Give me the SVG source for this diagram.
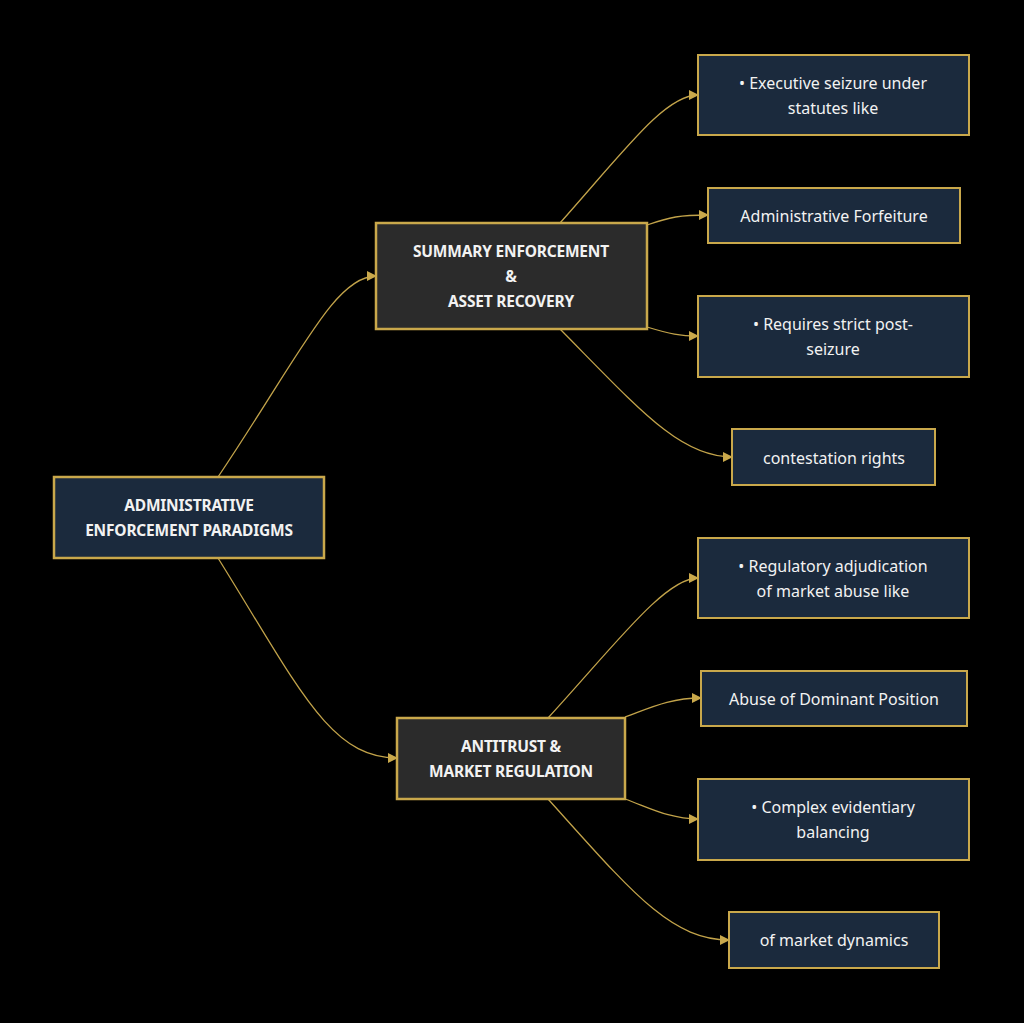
<svg xmlns="http://www.w3.org/2000/svg" width="1024" height="1023" viewBox="0 0 1024 1023">
<defs>
<style>
.leaf rect{fill:#1b2a3d;stroke:#c9a84b;stroke-width:2}
.parent rect{fill:#2b2b2b;stroke:#c9a84b;stroke-width:2.5}
.root rect{fill:#1b2a3d;stroke:#c9a84b;stroke-width:2.5}
text{font-family:"Noto Sans","Liberation Sans",Arial,sans-serif;font-size:16px;fill:#f2f2f2;text-anchor:middle;dominant-baseline:central}
text.b{font-weight:bold;font-size:15.5px;letter-spacing:-0.2px}
.edges path{fill:none;stroke:#c2a34a;stroke-width:1.3}
</style>
<marker id="arr" viewBox="0 0 10 10" refX="9" refY="5" markerWidth="10" markerHeight="10" markerUnits="userSpaceOnUse" orient="auto">
<path d="M0,0 L10,5 L0,10 z" fill="#c9a84b"/>
</marker>
</defs>
<rect width="1024" height="1023" fill="#000"/>
<g class="edges">
<path d="M218,477 C300,355 335,276 376,276" marker-end="url(#arr)"/>
<path d="M218,558 C300,690 330,758 397,758" marker-end="url(#arr)"/>
<path d="M560,223 C625,150 665,95 698,95" marker-end="url(#arr)"/>
<path d="M647,225 C670,217 680,215 708,215" marker-end="url(#arr)"/>
<path d="M647,327 C670,334 680,336 698,336" marker-end="url(#arr)"/>
<path d="M560,329 C640,410 680,457 732,457" marker-end="url(#arr)"/>
<path d="M548,718 C615,645 665,578 698,578" marker-end="url(#arr)"/>
<path d="M625,717 C650,708 670,698 701,698" marker-end="url(#arr)"/>
<path d="M625,799 C650,808 670,819 698,819" marker-end="url(#arr)"/>
<path d="M548,799 C630,890 670,940 729,940" marker-end="url(#arr)"/>
</g>
<g id="root" class="root">
<rect x="54" y="477" width="270" height="81"/>
<text class="b" x="189" y="505">ADMINISTRATIVE</text>
<text class="b" x="189" y="530">ENFORCEMENT PARADIGMS</text>
</g>
<g id="summary" class="parent">
<rect x="376" y="223" width="271" height="106"/>
<text class="b" x="511" y="251">SUMMARY ENFORCEMENT</text>
<text class="b" x="511" y="276">&amp;</text>
<text class="b" x="511" y="301">ASSET RECOVERY</text>
</g>
<g id="antitrust" class="parent">
<rect x="397" y="718" width="228" height="81"/>
<text class="b" x="511" y="746">ANTITRUST &amp;</text>
<text class="b" x="511" y="771">MARKET REGULATION</text>
</g>
<g id="leaf1" class="leaf">
<rect x="698" y="55" width="271" height="80"/>
<text x="833" y="83">• Executive seizure under</text>
<text x="833" y="108">statutes like</text>
</g>
<g id="leaf2" class="leaf">
<rect x="708" y="188" width="252" height="55"/>
<text x="834" y="216">Administrative Forfeiture</text>
</g>
<g id="leaf3" class="leaf">
<rect x="698" y="296" width="271" height="81"/>
<text x="833" y="324">• Requires strict post-</text>
<text x="833" y="349">seizure</text>
</g>
<g id="leaf4" class="leaf">
<rect x="732" y="429" width="203" height="56"/>
<text x="834" y="458">contestation rights</text>
</g>
<g id="leaf5" class="leaf">
<rect x="698" y="538" width="271" height="80"/>
<text x="833" y="566">• Regulatory adjudication</text>
<text x="833" y="591">of market abuse like</text>
</g>
<g id="leaf6" class="leaf">
<rect x="701" y="671" width="266" height="55"/>
<text x="834" y="699">Abuse of Dominant Position</text>
</g>
<g id="leaf7" class="leaf">
<rect x="698" y="779" width="271" height="81"/>
<text x="833" y="807">• Complex evidentiary</text>
<text x="833" y="832">balancing</text>
</g>
<g id="leaf8" class="leaf">
<rect x="729" y="912" width="210" height="56"/>
<text x="834" y="940">of market dynamics</text>
</g>
</svg>
